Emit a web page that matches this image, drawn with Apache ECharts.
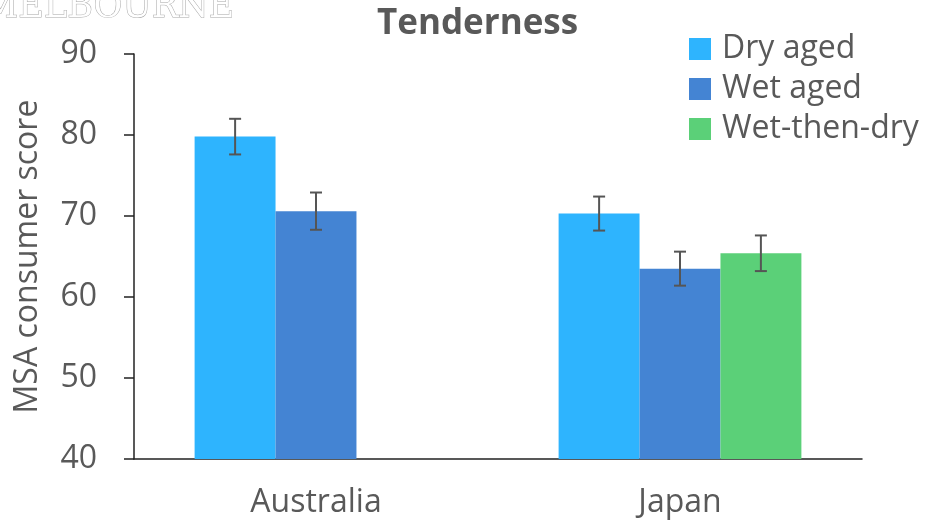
<!DOCTYPE html>
<html>
<head>
<meta charset="utf-8">
<script src="https://cdn.jsdelivr.net/npm/echarts@6/dist/echarts.min.js"></script>
<style>
  html, body { margin: 0; padding: 0; background: #fff; }
  #chart { width: 929px; height: 524px; }
</style>
</head>
<body>
<div id="chart"></div>
<script>
// Consumer tenderness scores by market and ageing method
const categories = ['Australia', 'Japan'];
const seriesNames = ['Dry aged', 'Wet aged', 'Wet-then-dry'];
const dryAged = [79.8, 70.3];
const wetAged = [70.6, 63.5];
const wetThenDry = [null, 65.4];
// Error bar half-widths (± score)
const dryErr = [2.2, 2.1];
const wetErr = [2.3, 2.1];
const wtdErr = [null, 2.2];
const yTicks = [40, 50, 60, 70, 80, 90];

const colors = ['#2eb4fe', '#4484d3', '#5bd078'];
const textColor = '#595959';
const font = '"Open Sans", "Noto Sans", sans-serif';
const gapRatio = 1 / 3;

function errData(vals, errs) {
  return vals.map((v, i) => (v == null || errs[i] == null) ? null : [i, v - errs[i], v + errs[i]]);
}

function errorSeries(name, vals, errs, slot) {
  return {
    type: 'custom',
    name: name,
    z: 5,
    silent: true,
    data: errData(vals, errs).filter(d => d),
    renderItem: function (params, api) {
      const idx = api.value(0);
      const lo = api.coord([idx, api.value(1)]);
      const hi = api.coord([idx, api.value(2)]);
      const band = api.size([1, 0])[0];
      const barW = band * (1 - gapRatio) / 3;
      const cx = lo[0] + slot * barW;
      const cap = 6;
      const st = { stroke: '#555', lineWidth: 2 };
      return {
        type: 'group',
        children: [
          { type: 'line', shape: { x1: cx, y1: hi[1], x2: cx, y2: lo[1] }, style: st },
          { type: 'line', shape: { x1: cx - cap, y1: hi[1], x2: cx + cap, y2: hi[1] }, style: st },
          { type: 'line', shape: { x1: cx - cap, y1: lo[1], x2: cx + cap, y2: lo[1] }, style: st }
        ]
      };
    }
  };
}

const chart = echarts.init(document.getElementById('chart'), null, { renderer: 'canvas' });
chart.setOption({
  backgroundColor: '#fff',
  animation: false,
  color: colors,
  textStyle: { fontFamily: font },
  graphic: [{
    type: 'text',
    left: -18,
    top: -10,
    silent: true,
    style: {
      text: 'MELBOURNE',
      font: '35px "DejaVu Serif", "Liberation Serif", serif',
      fill: '#ffffff',
      stroke: '#a8a8a8',
      lineWidth: 1
    }
  }],
  title: {
    text: 'Tenderness',
    left: 372,
    top: 2,
    textStyle: { color: textColor, fontSize: 35, fontWeight: 'bold', fontFamily: font }
  },
  legend: {
    data: seriesNames,
    orient: 'vertical',
    left: 689,
    top: 33,
    padding: 0,
    itemWidth: 22,
    itemHeight: 22,
    itemGap: 8,
    icon: 'rect',
    textStyle: { color: textColor, fontSize: 32, lineHeight: 32, fontFamily: font, padding: [0, 0, 0, 6] }
  },
  grid: { left: 134, right: 67, top: 54, bottom: 65, containLabel: false },
  xAxis: {
    type: 'category',
    data: categories,
    axisLine: { show: true, lineStyle: { color: '#222', width: 1.5 } },
    axisTick: { show: false },
    axisLabel: { color: textColor, fontSize: 32, margin: 28 }
  },
  yAxis: {
    type: 'value',
    min: yTicks[0],
    max: yTicks[yTicks.length - 1],
    interval: 10,
    name: 'MSA consumer score',
    nameLocation: 'middle',
    nameGap: 90,
    nameTextStyle: { color: textColor, fontSize: 32 },
    axisLine: { show: true, lineStyle: { color: '#222', width: 1.5 } },
    axisTick: { show: true, length: 10, lineStyle: { color: '#222', width: 1.5 } },
    axisLabel: { color: textColor, fontSize: 32, margin: 37 },
    splitLine: { show: false }
  },
  series: [
    { name: seriesNames[0], type: 'bar', data: dryAged, barGap: '0%', barCategoryGap: '33.3%', itemStyle: { color: colors[0] } },
    { name: seriesNames[1], type: 'bar', data: wetAged, barGap: '0%', barCategoryGap: '33.3%', itemStyle: { color: colors[1] } },
    { name: seriesNames[2], type: 'bar', data: wetThenDry, barGap: '0%', barCategoryGap: '33.3%', itemStyle: { color: colors[2] } },
    errorSeries('err-dry', dryAged, dryErr, -1),
    errorSeries('err-wet', wetAged, wetErr, 0),
    errorSeries('err-wtd', wetThenDry, wtdErr, 1)
  ]
});
</script>
</body>
</html>
